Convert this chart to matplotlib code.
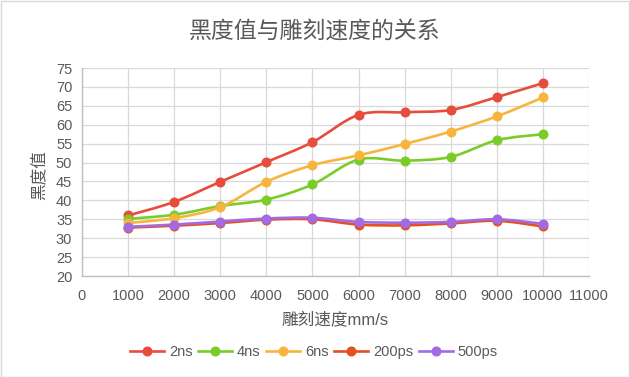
import matplotlib
matplotlib.use('Agg')
import matplotlib.pyplot as plt
from matplotlib.path import Path
from matplotlib.patches import PathPatch, Rectangle
from matplotlib.lines import Line2D
import numpy as np

plt.rcParams['font.family'] = ['Liberation Sans', 'Noto Sans CJK SC', 'DejaVu Sans']

speed = [1000, 2000, 3000, 4000, 5000, 6000, 7000, 8000, 9000, 10000]
ns2 = [36.0, 39.6, 44.9, 50.1, 55.4, 62.6, 63.3, 63.9, 67.3, 71.0]
ns4 = [35.1, 36.2, 38.5, 40.2, 44.2, 50.8, 50.5, 51.5, 55.9, 57.5]
ns6 = [34.0, 35.3, 38.2, 44.9, 49.3, 51.9, 54.9, 58.2, 62.2, 67.2]
ps200 = [32.8, 33.3, 34.0, 34.9, 35.0, 33.6, 33.4, 33.9, 34.6, 33.1]
ps500 = [33.0, 33.6, 34.4, 35.2, 35.4, 34.3, 34.1, 34.3, 35.0, 33.8]

names = ['2ns', '4ns', '6ns', '200ps', '500ps']
series = [ns2, ns4, ns6, ps200, ps500]
colors = ['#E74C3C', '#7ACC29', '#F7B53D', '#E5501E', '#A26BE3']

text_col = '#595959'


def smooth_path(x, y):
    # Excel-style smoothed line: Catmull-Rom turned into cubic Bezier pieces
    p = np.column_stack([x, y]).astype(float)
    ext = np.vstack([p[0], p, p[-1]])
    verts = [p[0]]
    codes = [Path.MOVETO]
    for i in range(len(p) - 1):
        p0, p1, p2, p3 = ext[i], ext[i + 1], ext[i + 2], ext[i + 3]
        c1 = p1 + (p2 - p0) / 6.0
        c2 = p2 - (p3 - p1) / 6.0
        verts += [c1, c2, p2]
        codes += [Path.CURVE4] * 3
    return Path(verts, codes)


fig = plt.figure(figsize=(6.3, 3.77), dpi=100)
ax = fig.add_axes([82 / 630, 1 - 276 / 377, (589 - 82) / 630, (276 - 68) / 377])

for name, vals, c in zip(names, series, colors):
    ax.add_patch(PathPatch(smooth_path(speed, vals), facecolor='none',
                           edgecolor=c, lw=1.9, zorder=3, capstyle='round'))
    ax.plot(speed, vals, 'o', color=c, ms=6.2, zorder=4)

ax.set_xlim(0, 11000)
ax.set_ylim(20, 75)
ax.set_xticks(range(0, 11001, 1000))
ax.set_yticks(range(20, 76, 5))
ax.grid(True, color='#D9D9D9', lw=0.9)
ax.set_axisbelow(True)
for s in ['top', 'right']:
    ax.spines[s].set_visible(False)
for s in ['left', 'bottom']:
    ax.spines[s].set_color('#BFBFBF')
    ax.spines[s].set_linewidth(1.0)
ax.tick_params(length=0, labelsize=10.5, colors=text_col)
ax.tick_params(axis='x', pad=9)
ax.tick_params(axis='y', pad=7)

fig.text(0.5, 1 - 32 / 377, '黑度值与雕刻速度的关系', ha='center', va='center',
         fontsize=16.5, color=text_col)
fig.text(335 / 630, 1 - 320 / 377, '雕刻速度mm/s', ha='center', va='center',
         fontsize=12, color=text_col)
fig.text(38 / 630, 1 - 175 / 377, '黑度值', ha='center', va='center',
         rotation=90, fontsize=12, color=text_col)

handles = [Line2D([], [], color=c, lw=1.9, marker='o', ms=6.2) for c in colors]
fig.legend(handles, names, loc='center', bbox_to_anchor=(314 / 630, 1 - 352 / 377),
           ncol=5, frameon=False, fontsize=10.5, handlelength=2.3,
           handletextpad=0.35, columnspacing=0.4, labelcolor=text_col)

fig.patches.append(Rectangle((0.5 / 630, 0.5 / 377), 1 - 1.5 / 630, 1 - 1.5 / 377,
                             transform=fig.transFigure, fill=False,
                             edgecolor='#D9D9D9', lw=1))

fig.savefig('out.png', dpi=100)
